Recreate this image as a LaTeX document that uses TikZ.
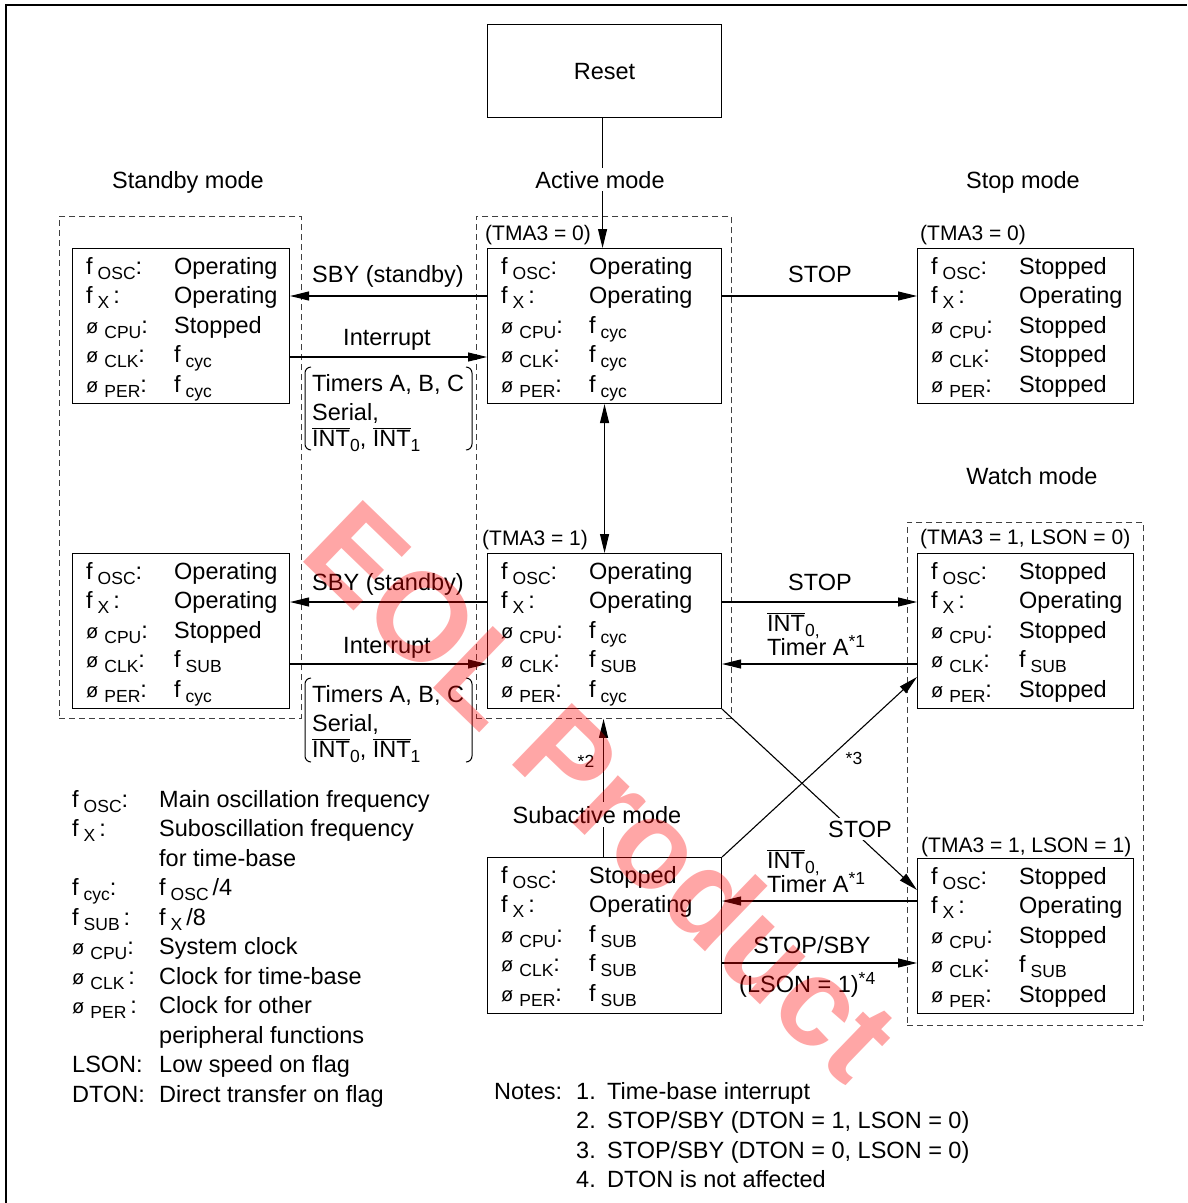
\documentclass[tikz,border=0pt]{standalone}
\usepackage{fontspec}
\setmainfont{Liberation Sans}
\usetikzlibrary{arrows.meta}

\newcommand{\mainf}{\fontsize{23.5}{28}\selectfont}
\newcommand{\subf}{\fontsize{17.5}{20}\selectfont}
\newcommand{\phf}{\fontsize{20}{22}\selectfont}
\newcommand{\condf}{\fontsize{21}{24}\selectfont}
\newcommand{\fl}[1]{f\kern5pt\raisebox{-5pt}{\subf #1}}
\newcommand{\pl}[1]{{\phf ø}\kern6pt\raisebox{-5pt}{\subf #1}}
\newcommand{\ovl}[1]{$\overline{\hbox{#1}}$}
\newcommand{\lowsub}[1]{\raisebox{-5pt}{\subf #1}}
\newcommand{\upsup}[1]{\raisebox{8pt}{\subf #1}}

\tikzset{
  sbox/.style={draw, line width=1.1pt, inner sep=0pt, anchor=north west, font=\mainf},
  dframe/.style={draw=black!75, line width=0.9pt, dash pattern=on 6pt off 4pt, inner sep=0pt, anchor=north west},
  txt/.style={inner sep=0pt, anchor=base west, font=\mainf},
  lbl/.style={inner sep=0pt, anchor=base, font=\mainf},
  cond/.style={inner sep=0pt, anchor=base west, font=\condf},
  note/.style={inner sep=0pt, anchor=center, font=\subf},
  arr/.style={line width=1.1pt, -{Triangle[length=19pt,width=9pt]}},
  darr/.style={line width=1.1pt, {Triangle[length=19pt,width=9pt]}-{Triangle[length=19pt,width=9pt]}},
  brk/.style={line width=1pt, rounded corners=6pt}
}

\newcommand{\boxrows}[6]{%
  \node[txt] (#1-l1) at ([shift={(14,26)}]#1.north west) {\fl{OSC}:};
  \node[txt] (#1-l2) at ([shift={(14,55.5)}]#1.north west) {\fl{X}\,:};
  \node[txt] (#1-l3) at ([shift={(14,85)}]#1.north west) {\pl{CPU}:};
  \node[txt] (#1-l4) at ([shift={(14,114.5)}]#1.north west) {\pl{CLK}:};
  \node[txt] (#1-l5) at ([shift={(14,144)}]#1.north west) {\pl{PER}:};
  \node[txt] (#1-v1) at ([shift={(102,26)}]#1.north west) {#2};
  \node[txt] (#1-v2) at ([shift={(102,55.5)}]#1.north west) {#3};
  \node[txt] (#1-v3) at ([shift={(102,85)}]#1.north west) {#4};
  \node[txt] (#1-v4) at ([shift={(102,114.5)}]#1.north west) {#5};
  \node[txt] (#1-v5) at ([shift={(102,144)}]#1.north west) {#6};
}

\begin{document}
\begin{tikzpicture}[x=1pt,y=-1pt]
\useasboundingbox (0,0) rectangle (1187,1203);
% frame
\draw[line width=1.4pt] (6,1203) -- (6,5) -- (1187,5);

% dashed frames
\node[dframe, minimum width=242pt, minimum height=502pt] (sbframe) at (59,216) {};
\node[dframe, minimum width=255pt, minimum height=502pt] (actframe) at (476,216) {};
\node[dframe, minimum width=236pt, minimum height=503pt] (wframe) at (907,522) {};

% boxes
\node[sbox, minimum width=234pt, minimum height=93pt] (reset) at (487,24) {Reset};
\node[sbox, minimum width=217pt, minimum height=155pt] (sb1) at (72,248) {};
\node[sbox, minimum width=217pt, minimum height=155pt] (sb2) at (72,553) {};
\node[sbox, minimum width=234pt, minimum height=155pt] (act1) at (487,248) {};
\node[sbox, minimum width=234pt, minimum height=155pt] (act2) at (487,553) {};
\node[sbox, minimum width=234pt, minimum height=156pt] (sub) at (487,857) {};
\node[sbox, minimum width=216pt, minimum height=155pt] (stop) at (917,248) {};
\node[sbox, minimum width=216pt, minimum height=155pt] (w1) at (917,553) {};
\node[sbox, minimum width=216pt, minimum height=155pt] (w2) at (917,858) {};

\boxrows{sb1}{Operating}{Operating}{Stopped}{\fl{cyc}}{\fl{cyc}}
\boxrows{sb2}{Operating}{Operating}{Stopped}{\fl{SUB}}{\fl{cyc}}
\boxrows{act1}{Operating}{Operating}{\fl{cyc}}{\fl{cyc}}{\fl{cyc}}
\boxrows{act2}{Operating}{Operating}{\fl{cyc}}{\fl{SUB}}{\fl{cyc}}
\boxrows{sub}{Stopped}{Operating}{\fl{SUB}}{\fl{SUB}}{\fl{SUB}}
\boxrows{stop}{Stopped}{Operating}{Stopped}{Stopped}{Stopped}
\boxrows{w1}{Stopped}{Operating}{Stopped}{\fl{SUB}}{Stopped}
\boxrows{w2}{Stopped}{Operating}{Stopped}{\fl{SUB}}{Stopped}

% connectors
\draw[arr] ([xshift=-2pt]reset.south) -- ([xshift=-2pt]act1.north);
\draw[darr] (act1.south) -- (act2.north);
\draw[arr] (act1.west |- 0,296) -- (sb1.east |- 0,296);
\draw[arr] (sb1.east |- 0,357) -- (act1.west |- 0,357);
\draw[arr] (act1.east |- 0,296) -- (stop.west |- 0,296);
\draw[arr] (act2.west |- 0,602) -- (sb2.east |- 0,602);
\draw[arr] (sb2.east |- 0,664) -- (act2.west |- 0,664);
\draw[arr] (act2.east |- 0,602) -- (w1.west |- 0,602);
\draw[arr] (w1.west |- 0,664) -- (act2.east |- 0,664);
\draw[arr] (sub.north east) -- (w1.west |- 0,677);
\draw[arr] (act2.south east) -- (w2.west |- 0,890);
\draw[arr] (w2.west |- 0,901) -- (sub.east |- 0,901);
\draw[arr] (sub.east |- 0,963) -- (w2.west |- 0,963);
\draw[arr] ([xshift=-1pt]sub.north) -- ([xshift=-1pt]sub.north |- actframe.south);

% brackets
\draw[brk] (311,367) -- (305,367) -- (305,450) -- (311,450);
\draw[brk] (466,367) -- (472,367) -- (472,450) -- (466,450);
\draw[brk] (311,678) -- (305,678) -- (305,762) -- (311,762);
\draw[brk] (466,678) -- (472,678) -- (472,762) -- (466,762);

% mode labels
\node[lbl] (lstandby) at (188,188) {Standby mode};
\node[lbl, fill=white, inner ysep=3pt] (lactive) at (600,188) {Active mode};
\node[lbl] (lstop) at (1023,188) {Stop mode};
\node[lbl] (lwatch) at (1032,484) {Watch mode};
\node[lbl, fill=white, inner ysep=4pt] (lsub) at (597,823) {Subactive mode};

% condition labels
\node[cond] (c1) at (485,240) {(TMA3 = 0)};
\node[cond] (c2) at (920,240) {(TMA3 = 0)};
\node[cond] (c3) at (482,545) {(TMA3 = 1)};
\node[cond] (c4) at (920,544) {(TMA3 = 1, LSON = 0)};
\node[cond] (c5) at (921,852) {(TMA3 = 1, LSON = 1)};

% arrow labels
\node[lbl] (tsby1) at (388,282) {SBY (standby)};
\node[lbl] (tint1) at (387,345) {Interrupt};
\node[lbl] (tstop1) at (820,282) {STOP};
\node[lbl] (tsby2) at (388,590) {SBY (standby)};
\node[lbl] (tint2) at (387,653) {Interrupt};
\node[lbl] (tstop2) at (820,590) {STOP};

\node[txt] (br1a) at (312,391) {Timers A, B, C};
\node[txt] (br1b) at (312,420) {Serial,};
\node[txt] (br1c) at (312,446) {\ovl{INT}\lowsub{0}, \ovl{INT}\lowsub{1}};
\node[txt] (br2a) at (312,702) {Timers A, B, C};
\node[txt] (br2b) at (312,731) {Serial,};
\node[txt] (br2c) at (312,757) {\ovl{INT}\lowsub{0}, \ovl{INT}\lowsub{1}};

\node[txt] (ti1a) at (767,631) {\ovl{INT}\lowsub{0,}};
\node[txt] (ti1b) at (767,655) {Timer A\upsup{*1}};
\node[txt] (ti2a) at (767,868) {\ovl{INT}\lowsub{0,}};
\node[txt] (ti2b) at (767,892) {Timer A\upsup{*1}};

\node[lbl] (tss) at (812,953) {STOP/SBY};
\node[txt] (tlson) at (739,992) {(LSON = 1)\upsup{*4}};
\node[lbl, fill=white, inner sep=3pt] (tstopd) at (860,837) {STOP};
\node[note] (n3) at (854,758) {*3};
\node[note] (n2) at (586,761) {*2};

% legend
\node[txt] (g1l) at (72,807) {\fl{OSC}:};      \node[txt] (g1v) at (159,807) {Main oscillation frequency};
\node[txt] (g2l) at (72,836.5) {\fl{X}\,:};    \node[txt] (g2v) at (159,836.5) {Suboscillation frequency};
                                               \node[txt] (g3v) at (159,866) {for time-base};
\node[txt] (g4l) at (72,895.5) {\fl{cyc}:};    \node[txt] (g4v) at (159,895.5) {\fl{OSC}\,/4};
\node[txt] (g5l) at (72,925) {\fl{SUB}\,:};    \node[txt] (g5v) at (159,925) {\fl{X}\,/8};
\node[txt] (g6l) at (72,954.5) {\pl{CPU}:};    \node[txt] (g6v) at (159,954.5) {System clock};
\node[txt] (g7l) at (72,984) {\pl{CLK}\,:};    \node[txt] (g7v) at (159,984) {Clock for time-base};
\node[txt] (g8l) at (72,1013.5) {\pl{PER}\,:}; \node[txt] (g8v) at (159,1013.5) {Clock for other};
                                               \node[txt] (g9v) at (159,1043) {peripheral functions};
\node[txt] (g10l) at (72,1072.5) {LSON:};      \node[txt] (g10v) at (159,1072.5) {Low speed on flag};
\node[txt] (g11l) at (72,1102) {DTON:};        \node[txt] (g11v) at (159,1102) {Direct transfer on flag};

% notes
\node[txt] (nn) at (494,1099) {Notes:};
\node[txt] (nn1) at (576,1099) {1.};  \node[txt] (nt1) at (607,1099) {Time-base interrupt};
\node[txt] (nn2) at (576,1128.5) {2.};  \node[txt] (nt2) at (607,1128.5) {STOP/SBY (DTON = 1, LSON = 0)};
\node[txt] (nn3) at (576,1158) {3.};  \node[txt] (nt3) at (607,1158) {STOP/SBY (DTON = 0, LSON = 0)};
\node[txt] (nn4) at (576,1187.5) {4.};  \node[txt] (nt4) at (607,1187.5) {DTON is not affected};

% watermark
\node[rotate=-44, text=red, text opacity=0.35, inner sep=0pt,
      font=\fontsize{125}{130}\selectfont\bfseries] (wm) at (603,790) {EOL Product};
\end{tikzpicture}
\end{document}
